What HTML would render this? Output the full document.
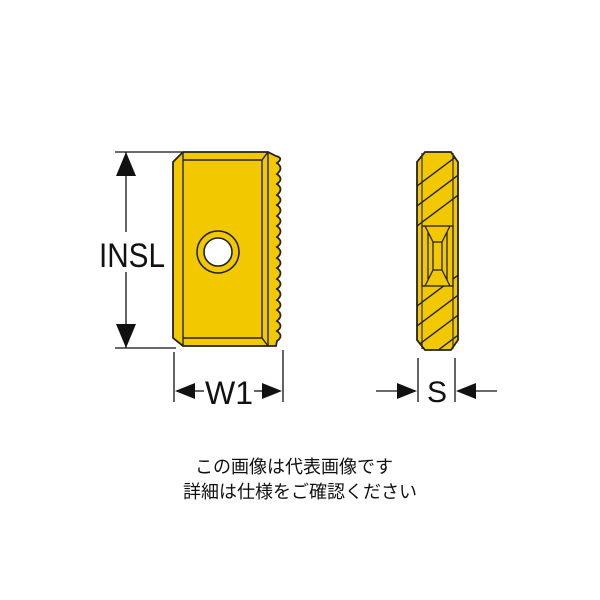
<!DOCTYPE html>
<html><head><meta charset="utf-8"><style>
body{margin:0;background:#fff;}
svg{display:block}
</style></head><body>
<svg width="600" height="600" viewBox="0 0 600 600" xmlns="http://www.w3.org/2000/svg">
<defs>
<clipPath id="c"><path d="M425,152 L451,152 L458,162 L458,340 L451,350 L425,350 L417,340 L417,162z"/></clipPath>
</defs>
<g stroke="#111" stroke-width="1.3" fill="none">
<line x1="115" y1="152" x2="182" y2="152"/>
<line x1="115" y1="348" x2="176" y2="348"/>
<line x1="126" y1="152" x2="126" y2="232"/>
<line x1="126" y1="272" x2="126" y2="348"/>
</g>
<path d="M126,152 L116,176 L136,176z" fill="#111"/>
<path d="M126,348 L116,324 L136,324z" fill="#111"/>
<text x="132" y="267" font-family="Liberation Sans, sans-serif" font-size="34" text-anchor="middle" fill="#111" textLength="66" lengthAdjust="spacingAndGlyphs">INSL</text>

<path d="M183,152 L268,152 L276,156 Q284,158 277,163 Q284,168 277,174 Q284,179 277,184 Q284,189 277,195 Q284,200 277,205 Q284,210 277,216 Q284,221 277,226 Q284,231 277,237 Q284,242 277,247 Q284,252 277,258 Q284,263 277,268 Q284,273 277,279 Q284,284 277,289 Q284,294 277,300 Q284,305 277,310 Q284,315 277,321 Q284,326 277,331 Q284,336 277,341 L276,346 L268,346 L183,346 L173,338 L173,162z" fill="#f2c800" stroke="#222" stroke-width="1.8"/>
<g stroke="#222" stroke-width="1.4" fill="none">
<path d="M183,152 L183,346"/>
<path d="M183,160 L262,160 L268,152"/>
<path d="M183,338 L262,338 L268,346"/>
<path d="M262,160 L262,338"/>
<path d="M268,152 L268,346"/>
</g>
<circle cx="218" cy="252" r="21" fill="#f2c800" stroke="#222" stroke-width="1.6"/>
<circle cx="218" cy="252" r="14" fill="#fff" stroke="#222" stroke-width="1.6"/>

<g stroke="#111" stroke-width="1.3">
<line x1="174" y1="352" x2="174" y2="402"/>
<line x1="283" y1="350" x2="283" y2="402"/>
<line x1="190" y1="391" x2="204" y2="391"/>
<line x1="254" y1="391" x2="268" y2="391"/>
</g>
<path d="M175,391 L195,383 L195,399z" fill="#111"/>
<path d="M282,391 L262,383 L262,399z" fill="#111"/>
<text x="229" y="404" font-family="Liberation Sans, sans-serif" font-size="32" text-anchor="middle" fill="#111">W1</text>

<path d="M425,152 L451,152 L458,162 L458,340 L451,350 L425,350 L417,340 L417,162z" fill="#f2c800"/>
<g clip-path="url(#c)" stroke="#222" stroke-width="1.4">
<line x1="405" y1="195" x2="465" y2="150"/>
<line x1="405" y1="215" x2="465" y2="170"/>
<line x1="405" y1="235" x2="465" y2="190"/>
<line x1="405" y1="315" x2="465" y2="270"/>
<line x1="405" y1="335" x2="465" y2="290"/>
<line x1="405" y1="355" x2="465" y2="310"/>
<line x1="405" y1="375" x2="465" y2="330"/>
</g>
<rect x="422" y="226" width="31" height="60" fill="#f2c800" stroke="#222" stroke-width="1.3"/>
<path d="M425,226 L433,242 L433,270 L425,286 M450,226 L442,242 L442,270 L450,286 M433,242 L442,242 M433,270 L442,270 M428,232 L428,280 M447,232 L447,280" stroke="#222" stroke-width="1.3" fill="none"/>
<path d="M425,152 L451,152 L458,162 L458,340 L451,350 L425,350 L417,340 L417,162z" fill="none" stroke="#222" stroke-width="1.8"/>
<path d="M422,153 L422,349 M453,153 L453,349" stroke="#222" stroke-width="1.1" fill="none"/>

<g stroke="#111" stroke-width="1.3">
<line x1="418" y1="358" x2="418" y2="402"/>
<line x1="455" y1="358" x2="455" y2="402"/>
<line x1="376" y1="391" x2="400" y2="391"/>
<line x1="473" y1="391" x2="497" y2="391"/>
</g>
<path d="M417,391 L397,383 L397,399z" fill="#111"/>
<path d="M456,391 L476,383 L476,399z" fill="#111"/>
<text x="437" y="402" font-family="Liberation Sans, sans-serif" font-size="30" text-anchor="middle" fill="#111">S</text>

<text x="294" y="473" font-family="Liberation Sans, Noto Sans CJK JP, sans-serif" font-size="18" text-anchor="middle" fill="#111">この画像は代表画像です</text>
<text x="300" y="498" font-family="Liberation Sans, Noto Sans CJK JP, sans-serif" font-size="18" text-anchor="middle" fill="#111">詳細は仕様をご確認ください</text>
</svg>
</body></html>
